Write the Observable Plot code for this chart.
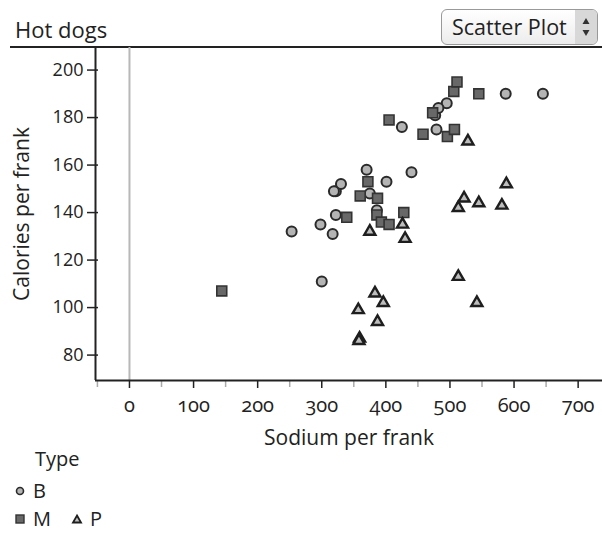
<!DOCTYPE html>
<html>
<head>
<meta charset="utf-8">
<script src="https://cdn.jsdelivr.net/npm/d3@7"></script>
<script src="https://cdn.jsdelivr.net/npm/@observablehq/plot@0.6"></script>
<style>
  html, body { margin: 0; padding: 0; background: #fff; }
  #wrap { position: relative; width: 602px; height: 533px; overflow: hidden; font-family: "Open Sans", sans-serif; color: #222; }
  #wrap svg.plot { position: absolute; left: 0; top: 0; }
  #wrap svg.plot g[aria-label="x-axis tick label"] text { font-variant-numeric: oldstyle-nums; }
  #title { position: absolute; left: 15px; top: 16px; font-size: 22px; line-height: 26px; }
  #hline { position: absolute; left: 10px; top: 46px; width: 592px; height: 0; border-top: 2px solid #222; }
  #widget { position: absolute; left: 441px; top: 9px; width: 155px; height: 34px; border: 1px solid #999; border-radius: 6px;
            background: linear-gradient(#ffffff, #ececec); box-sizing: content-box; }
  #widget .lbl { position: absolute; left: 10px; top: 2px; font-size: 21.5px; line-height: 29px; white-space: nowrap; }
  #widget svg { position: absolute; right: 0; top: 0; }
  #legend { position: absolute; left: 0; top: 445px; font-size: 20px; }
  #legend .ttl { position: absolute; left: 35px; top: 0; white-space: nowrap; }
  #legend .row { position: absolute; left: 14px; white-space: nowrap; display: flex; align-items: center; }
  #legend .row svg { margin-right: 7px; }
</style>
</head>
<body>
<div id="wrap">
  <div id="title">Hot dogs</div>
  <div id="hline"></div>
  <div id="widget"><span class="lbl">Scatter Plot</span>
    <svg width="22" height="34"><rect x="0" y="0" width="22" height="34" rx="5" fill="#d8d8d8"/><rect x="0" y="0" width="6" height="34" fill="#d8d8d8"/>
      <path d="M11,8 L14.5,14 L7.5,14 Z" fill="#333"/><path d="M11,26 L14.5,20 L7.5,20 Z" fill="#333"/></svg>
  </div>
  <div id="legend"></div>
</div>
<script>
// ---- data (Hot dogs: sodium & calories per frank by type) ----
const types = ["B", "M", "P"];
const beefSodium   = [495, 477, 425, 322, 482, 587, 370, 322, 479, 375, 330, 300, 386, 401, 645, 440, 317, 319, 298, 253];
const beefCalories = [186, 181, 176, 149, 184, 190, 158, 139, 175, 148, 152, 111, 141, 153, 190, 157, 131, 149, 135, 132];
const meatSodium   = [458, 506, 473, 545, 496, 360, 387, 386, 507, 393, 405, 372, 144, 511, 405, 428, 339];
const meatCalories = [173, 191, 182, 190, 172, 147, 146, 139, 175, 136, 179, 153, 107, 195, 135, 140, 138];
const poultrySodium   = [430, 375, 396, 383, 387, 542, 359, 357, 528, 513, 426, 513, 358, 581, 588, 522, 545];
const poultryCalories = [129, 132, 102, 106, 94, 102, 87, 99, 170, 113, 135, 142, 86, 143, 152, 146, 144];
const xTicks = [0, 100, 200, 300, 400, 500, 600, 700];
const xMinorTicks = [-50, 50, 150, 250, 350, 450, 550, 650];
const yTicks = [80, 100, 120, 140, 160, 180, 200];
const xDomain = [-53, 738];
const yDomain = [69.3, 209.5];
const xLabel = "Sodium per frank";
const yLabel = "Calories per frank";

const mk = (sod, cal, type) => sod.map((s, i) => ({sodium: s, calories: cal[i], type}));
const beef = mk(beefSodium, beefCalories, "B");
const meat = mk(meatSodium, meatCalories, "M");
const poultry = mk(poultrySodium, poultryCalories, "P");

const chart = Plot.plot({
  width: 602,
  height: 533,
  marginTop: 47,
  marginLeft: 95,
  marginRight: 0,
  marginBottom: 153,
  style: {fontFamily: "'Open Sans', sans-serif", fontSize: "18px", color: "#222", background: "transparent"},
  x: {domain: xDomain},
  y: {domain: yDomain},
  marks: [
    Plot.ruleX([0], {stroke: "#b8b8b8", strokeWidth: 2}),
    Plot.axisX(xMinorTicks, {tickSize: 7, stroke: "#aaa", tickFormat: () => "", label: null, strokeWidth: 1.5}),
    Plot.axisX(xTicks, {tickSize: 8, tickPadding: 9, strokeWidth: 1.5, label: null, fill: "#222", fontSize: 20}),
    Plot.axisY(yTicks, {tickSize: 11, dx: 3, tickPadding: 4, strokeWidth: 1.5, label: null, fill: "#222", fontSize: 18}),
    Plot.ruleY([yDomain[0]], {stroke: "#222", strokeWidth: 2}),
    Plot.ruleX([xDomain[0]], {stroke: "#222", strokeWidth: 2}),
    Plot.text([xLabel], {frameAnchor: "bottom", dy: 58, lineAnchor: "middle", textAnchor: "middle", fontSize: 21, fill: "#222"}),
    Plot.text([yLabel], {frameAnchor: "left", dx: -73, rotate: -90, textAnchor: "middle", lineAnchor: "middle", fontSize: 21, fill: "#222"}),
    Plot.dot(beef, {x: "sodium", y: "calories", symbol: "circle", r: 5, fill: "#b4b4b4", stroke: "#2a2a2a", strokeWidth: 2}),
    Plot.dot(meat, {x: "sodium", y: "calories", symbol: "square", r: 5.6, fill: "#686868", stroke: "#333", strokeWidth: 1.6}),
    Plot.dot(poultry, {x: "sodium", y: "calories", symbol: "triangle", r: 4.1, fill: "#bdbdbd", stroke: "#1e1e1e", strokeWidth: 2.4})
  ]
});
chart.classList.add("plot");
document.getElementById("wrap").insertBefore(chart, document.getElementById("legend"));

// ---- legend ----
const legend = document.getElementById("legend");
legend.innerHTML = `<div class="ttl">Type</div>`;
const sym = {
  B: `<svg width="12" height="12"><circle cx="6" cy="6" r="3.5" fill="#b4b4b4" stroke="#2a2a2a" stroke-width="1.6"/></svg>`,
  M: `<svg width="12" height="12"><rect x="2" y="2" width="8" height="8" fill="#686868" stroke="#333" stroke-width="1.4"/></svg>`,
  P: `<svg width="12" height="12"><path d="M6,2.5 L10,9.5 L2,9.5 Z" fill="#bdbdbd" stroke="#1e1e1e" stroke-width="1.8"/></svg>`
};
const row1 = document.createElement("div");
row1.className = "row"; row1.style.top = "32px";
row1.innerHTML = `${sym.B}<span>${types[0]}</span>`;
const row2 = document.createElement("div");
row2.className = "row"; row2.style.top = "60px";
row2.innerHTML = `${sym.M}<span>${types[1]}</span><span style="display:inline-block;width:20px"></span>${sym.P}<span>${types[2]}</span>`;
legend.appendChild(row1); legend.appendChild(row2);
</script>
</body>
</html>
